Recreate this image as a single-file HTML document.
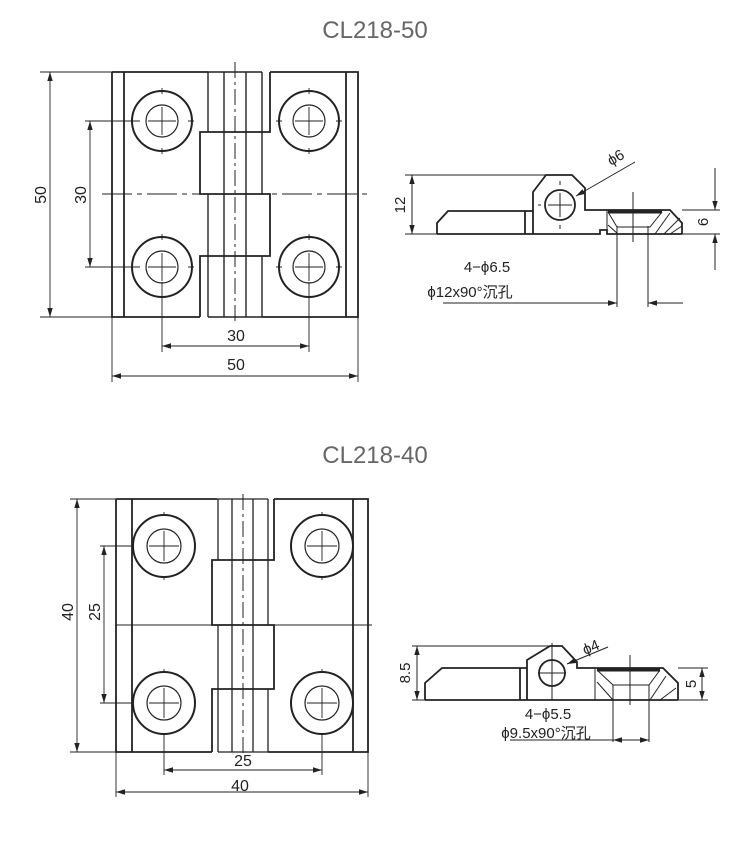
<!DOCTYPE html>
<html><head><meta charset="utf-8"><style>
html,body{margin:0;padding:0;background:#fff}
svg{display:block}
text{font-family:"Liberation Sans","Noto Sans CJK SC",sans-serif;fill:#222}
</style></head><body>
<svg width="750" height="865" viewBox="0 0 750 865" xmlns="http://www.w3.org/2000/svg">
<defs>
<marker id="a" viewBox="0 0 10 10" refX="10" refY="5" markerWidth="9" markerHeight="9" orient="auto-start-reverse" markerUnits="userSpaceOnUse"><path d="M0,2 L10,5 L0,8 z" fill="#222"/></marker>
</defs>
<text x="375" y="38" font-size="24" text-anchor="middle" style="fill:#666">CL218-50</text>
<text x="375" y="463" font-size="24" text-anchor="middle" style="fill:#666">CL218-40</text>

<!-- TOP FRONT VIEW -->
<g stroke="#222" fill="none">
<g stroke-width="1.8">
<path d="M112,72 H208 M270,72 H358 V317 H262 M200,317 H112 V72"/>
<path d="M270,72 V132 H200 V194 H270 V256 H200 V317"/>
<path d="M124,72 V317 M346,72 V317"/>
</g>
<g stroke-width="1.4">
<path d="M208,72 H262 M208,72 V132 M262,72 V132 M208,256 V317 M262,256 V317 M208,317 H262 M224,72 V317 M246,72 V317 M262,132 V194 M208,194 V256"/>
</g>
<g stroke-width="1">
<path d="M235,62 V325" stroke-dasharray="16,4,3,4"/>
<path d="M102,194 H368" stroke-dasharray="30,5,5,5"/>
</g>
<g stroke-width="2">
<circle cx="162" cy="121" r="30"/><circle cx="309" cy="121" r="30"/>
<circle cx="162" cy="267" r="30"/><circle cx="309" cy="267" r="30"/>
</g>
<g stroke-width="1.2">
<circle cx="162" cy="121" r="16"/><circle cx="309" cy="121" r="16"/>
<circle cx="162" cy="267" r="16"/><circle cx="309" cy="267" r="16"/>
</g>
<g stroke-width="0.9">
<path d="M148,121 H176 M162,107 V135 M295,121 H323 M309,107 V135 M148,267 H176 M162,253 V281 M295,267 H323 M309,253 V281"/>
<path d="M162,88 V94 M162,148 V154 M130,121 H136 M188,121 H194 M309,88 V94 M309,148 V154 M276,121 H282 M336,121 H342"/>
<path d="M162,234 V240 M309,234 V240 M130,267 H136 M188,267 H194 M276,267 H282 M336,267 H342"/>
<path d="M40,72 H112 M40,317 H112 M85,121 H140 M85,267 H140"/>
<path d="M50,72 V317" marker-start="url(#a)" marker-end="url(#a)"/>
<path d="M90,121 V267" marker-start="url(#a)" marker-end="url(#a)"/>
<path d="M112,317 V382 M358,317 V382 M162,282 V352 M309,282 V352"/>
<path d="M162,346 H309" marker-start="url(#a)" marker-end="url(#a)"/>
<path d="M112,376 H358" marker-start="url(#a)" marker-end="url(#a)"/>
</g>
</g>
<text x="236" y="341" font-size="16" text-anchor="middle">30</text>
<text x="236" y="370" font-size="16" text-anchor="middle">50</text>
<text transform="translate(46,195) rotate(-90)" font-size="16" text-anchor="middle">50</text>
<text transform="translate(86,195) rotate(-90)" font-size="16" text-anchor="middle">30</text>

<!-- TOP SIDE VIEW -->
<g stroke="#222" fill="none">
<g stroke-width="1.8">
<path d="M437,234 V223 L448,211 H525 V234 M525,211 H533"/>
<path d="M533,234 V192 L546,175 H572 L585,188 V210 H607 H670 L682,223 V234"/>
<path d="M437,234 H600 V230 H607 V234 H682"/>
<circle cx="560" cy="205" r="15"/>
<path d="M608,212 H662" stroke-width="3"/>
</g>
<g stroke-width="1">
<path d="M607,210 V234 M608,212 L617,227 H650 L662,212 M670,210 L682,223"/>
<path d="M608,225 L618,234 M655,234 L670,213 M664,234 L680,218 M670,234 L682,226"/>
<path d="M617,226 V307 M648,226 V307 M633,192 V242"/>
<path d="M548,205 H572 M560,193 V217 M560,181 V185 M560,225 V229 M538,205 H541"/>
<path d="M405,175 H546 M405,234 H437 M682,210 H720 M682,234 H720"/>
<path d="M412,175 V234" marker-start="url(#a)" marker-end="url(#a)"/>
<path d="M715,168 V210" marker-end="url(#a)"/>
<path d="M715,270 V234" marker-end="url(#a)"/>
<path d="M635,162 L576,196" marker-end="url(#a)"/>
<path d="M443,303 H617" marker-end="url(#a)"/>
<path d="M683,303 H648" marker-end="url(#a)"/>
</g>
</g>
<text transform="translate(405,205) rotate(-90)" font-size="15" text-anchor="middle">12</text>
<text transform="translate(708,222) rotate(-90)" font-size="15" text-anchor="middle">6</text>
<text transform="translate(611,166) rotate(-30)" font-size="15">ϕ6</text>
<text x="487" y="272" font-size="15" text-anchor="middle">4−ϕ6.5</text>
<text x="470" y="297" font-size="15" text-anchor="middle">ϕ12x90°沉孔</text>

<!-- BOTTOM FRONT VIEW -->
<g stroke="#222" fill="none">
<g stroke-width="1.8">
<path d="M116,499 H217 M274,499 H368 V752 H268 M212,752 H116 V499"/>
<path d="M274,499 V560 H212 V625 H274 V689 H212 V752"/>
<path d="M132,499 V752 M353,499 V752"/>
</g>
<g stroke-width="1.3">
<path d="M217,499 H268 M218,499 V560 M268,499 V560 M218,689 V752 M268,689 V752 M218,752 H268 M232,499 V752 M253,499 V752 M268,560 V625 M218,625 V689"/>
</g>
<g stroke-width="1">
<path d="M243,494 V757" stroke-dasharray="16,4,3,4"/>
<path d="M116,625 H372"/>
</g>
<g stroke-width="2">
<circle cx="164" cy="546" r="31"/><circle cx="322" cy="546" r="31"/>
<circle cx="164" cy="703" r="31"/><circle cx="322" cy="703" r="31"/>
</g>
<g stroke-width="1.2">
<circle cx="164" cy="546" r="17"/><circle cx="322" cy="546" r="17"/>
<circle cx="164" cy="703" r="17"/><circle cx="322" cy="703" r="17"/>
</g>
<g stroke-width="0.9">
<path d="M149,546 H179 M164,531 V561 M307,546 H337 M322,531 V561 M149,703 H179 M164,688 V718 M307,703 H337 M322,688 V718"/>
<path d="M164,512 V516 M164,576 V580 M322,512 V516 M322,576 V580 M164,669 V673 M322,669 V673"/>
<path d="M70,499 H116 M70,752 H116 M100,546 H133 M100,703 H133"/>
<path d="M77,499 V752" marker-start="url(#a)" marker-end="url(#a)"/>
<path d="M104,546 V703" marker-start="url(#a)" marker-end="url(#a)"/>
<path d="M116,752 V797 M368,752 V797 M164,734 V775 M322,734 V775"/>
<path d="M164,770 H322" marker-start="url(#a)" marker-end="url(#a)"/>
<path d="M116,792 H368" marker-start="url(#a)" marker-end="url(#a)"/>
</g>
</g>
<text x="243" y="766" font-size="16" text-anchor="middle">25</text>
<text x="240" y="791" font-size="16" text-anchor="middle">40</text>
<text transform="translate(73,612) rotate(-90)" font-size="16" text-anchor="middle">40</text>
<text transform="translate(100,612) rotate(-90)" font-size="16" text-anchor="middle">25</text>

<!-- BOTTOM SIDE VIEW -->
<g stroke="#222" fill="none">
<g stroke-width="1.8">
<path d="M425,700 V683 L442,668 H520 V700 M520,668 H527"/>
<path d="M527,700 V660 L550,646 H562 L577,662 V668 H595 H663 L678,683 V700"/>
<path d="M425,700 H678"/>
<circle cx="552" cy="673" r="13"/>
<path d="M597,670 H660" stroke-width="3"/>
</g>
<g stroke-width="1">
<path d="M595,668 V700 M597,670 L613,685 H649 L660,670 M663,668 L678,683"/>
<path d="M597,682 L613,700 M650,700 L666,676 M660,700 L676,688"/>
<path d="M613,685 V742 M649,685 V742 M630,655 V705 M552,643 V700"/>
<path d="M538,673 H566"/>
<path d="M412,646 H550 M412,700 H425 M678,668 H708 M678,700 H708"/>
<path d="M417,646 V700" marker-start="url(#a)" marker-end="url(#a)"/>
<path d="M702,668 V700" marker-start="url(#a)" marker-end="url(#a)"/>
<path d="M608,647 L567,664" marker-end="url(#a)"/>
<path d="M510,740 H649"/>
<path d="M630,740 H613" marker-end="url(#a)"/>
<path d="M632,740 H649" marker-end="url(#a)"/>
</g>
</g>
<text transform="translate(410,673) rotate(-90)" font-size="15" text-anchor="middle">8.5</text>
<text transform="translate(696,684) rotate(-90)" font-size="15" text-anchor="middle">5</text>
<text transform="translate(585,655) rotate(-22)" font-size="15">ϕ4</text>
<text x="548" y="719" font-size="15" text-anchor="middle">4−ϕ5.5</text>
<text x="546" y="738" font-size="15" text-anchor="middle">ϕ9.5x90°沉孔</text>
</svg>
</body></html>
